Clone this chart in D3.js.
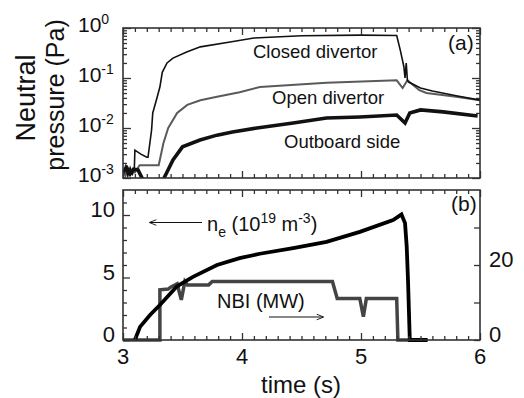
<!DOCTYPE html>
<html>
<head>
<meta charset="utf-8">
<script src="https://cdn.jsdelivr.net/npm/d3@7"></script>
<style>
  body { margin: 0; background: #fff; }
  svg { display: block; font-family: "Liberation Sans", Arial, sans-serif; }
</style>
</head>
<body>
<svg id="chart" width="524" height="398"></svg>
<script>
// time axis
const timeTicks = [3, 4, 5, 6];
const timeMinor = [3.1, 3.2, 3.3, 3.4, 3.5, 3.6, 3.7, 3.8, 3.9, 4.1, 4.2, 4.3, 4.4, 4.5, 4.6, 4.7, 4.8, 4.9,
  5.1, 5.2, 5.3, 5.4, 5.5, 5.6, 5.7, 5.8, 5.9];

// panel (a) log ticks
const decadeTicks = [1e-3, 1e-2, 1e-1, 1];
const logMinor = [2, 3, 4, 5, 6, 7, 8, 9].flatMap(m => [m * 1e-3, m * 1e-2, m * 1e-1]);

// panel (b) ticks
const densTicks = [0, 5, 10];
const densMinor = [1, 2, 3, 4, 6, 7, 8, 9, 11];
const nbiTicks = [0, 20];
const nbiMinor = [10, 30];

// neutral pressure (Pa) : [time (s), value]
const closedDivertor = [
  [3.0, 1.2e-3], [3.02, 1.7e-3], [3.04, 1.1e-3], [3.06, 1.6e-3], [3.08, 1.2e-3], [3.095, 1.5e-3],
  [3.10, 3.6e-3], [3.15, 3.0e-3], [3.20, 2.6e-3], [3.21, 2.6e-3], [3.24, 9e-3], [3.25, 2e-2],
  [3.28, 3.6e-2], [3.31, 6.6e-2], [3.33, 0.13], [3.37, 0.2], [3.42, 0.25], [3.535, 0.33],
  [3.65, 0.42], [3.9, 0.525], [4.1, 0.63], [4.5, 0.70], [5.0, 0.72], [5.30, 0.71],
  [5.33, 0.36], [5.36, 0.17], [5.37, 0.10], [5.38, 0.20], [5.39, 0.09], [5.40, 0.083],
  [5.5, 0.063], [5.6, 0.055], [5.8, 0.044], [6.0, 0.036]
];
const openDivertor = [
  [3.0, 1.5e-3], [3.02, 1.1e-3], [3.04, 1.6e-3], [3.06, 1.2e-3], [3.08, 1.5e-3], [3.10, 1.3e-3],
  [3.14, 1.8e-3], [3.30, 1.8e-3], [3.34, 5e-3], [3.38, 1e-2], [3.455, 2e-2], [3.54, 2.9e-2],
  [3.65, 3.6e-2], [3.79, 4.2e-2], [3.98, 5.2e-2], [4.15, 6.6e-2], [4.71, 8e-2], [5.30, 9e-2],
  [5.35, 6.3e-2], [5.39, 9e-2], [5.49, 5.7e-2], [5.55, 5e-2], [5.8, 4.2e-2], [6.0, 3.6e-2]
];
const outboardSide = [
  [3.0, 1.3e-3], [3.03, 1.6e-3], [3.06, 1.2e-3], [3.09, 1.5e-3], [3.126, 1.45e-3], [3.17, 9e-4],
  [3.20, 7e-4], [3.30, 7e-4], [3.336, 9.1e-4], [3.37, 1.32e-3], [3.42, 2.3e-3], [3.50, 4.2e-3],
  [3.647, 5.75e-3], [3.79, 7.2e-3], [3.92, 8.3e-3], [4.126, 1e-2], [4.43, 1.26e-2], [4.71, 1.58e-2],
  [4.99, 1.66e-2], [5.30, 1.82e-2], [5.37, 1.26e-2], [5.41, 2e-2], [5.50, 2.3e-2], [5.69, 2.1e-2],
  [5.98, 1.74e-2]
];

// line density (1e19 m-3) and NBI power (MW)
const density = [
  [3.10, 0], [3.143, 1.05], [3.227, 2.0], [3.31, 2.8], [3.454, 4.3], [3.588, 5.05], [3.79, 6.0],
  [3.98, 6.55], [4.15, 6.9], [4.43, 7.35], [4.71, 7.85], [4.99, 8.65], [5.27, 9.6], [5.34, 10.05],
  [5.37, 9.35], [5.384, 7.5], [5.395, 4.8], [5.41, 0], [5.56, 0]
];
const nbiPower = [
  [3.0, 0], [3.31, 0], [3.31, 13.4], [3.38, 13.6], [3.40, 14.1], [3.455, 15.0], [3.49, 10.7],
  [3.52, 15.6], [3.54, 14.7], [3.72, 14.7], [3.75, 15.6], [4.76, 15.6], [4.80, 11.1], [4.99, 11.1],
  [5.02, 6.2], [5.045, 11.1], [5.30, 11.1], [5.31, 0], [5.45, 0]
];

const svg = d3.select("#chart");
const left = 123, right = 480;
const aTop = 28, aBottom = 178, bTop = 190, bBottom = 340;

const x = d3.scaleLinear().domain([3, 6]).range([left, right]);
const yA = d3.scaleLog().domain([1e-3, 1]).range([aBottom, aTop]);
const yB = d3.scaleLinear().domain([0, 12]).range([bBottom, bTop]);
const yR = d3.scaleLinear().domain([0, 40]).range([bBottom, bTop]);

const frameColor = "#333";

function tickAxis(axis, tx, ty, vals, size) {
  const g = svg.append("g")
    .attr("transform", `translate(${tx},${ty})`)
    .call(axis.tickValues(vals).tickSize(size).tickFormat(""));
  g.select(".domain").remove();
  g.selectAll("line").attr("stroke", frameColor).attr("stroke-width", 1.3);
}

// clip paths
const defs = svg.append("defs");
defs.append("clipPath").attr("id", "clipA").append("rect")
  .attr("x", left).attr("y", aTop).attr("width", right - left).attr("height", aBottom - aTop);
defs.append("clipPath").attr("id", "clipB").append("rect")
  .attr("x", left).attr("y", bTop).attr("width", right - left).attr("height", bBottom - bTop + 2);
defs.append("marker").attr("id", "arr").attr("viewBox", "0 0 10 10")
  .attr("refX", 9).attr("refY", 5).attr("markerWidth", 9).attr("markerHeight", 7)
  .attr("orient", "auto").attr("markerUnits", "userSpaceOnUse")
  .append("path").attr("d", "M0,1 L10,5 L0,9").attr("fill", "none").attr("stroke", "#111").attr("stroke-width", 1.3);

// ---- panel (a) ----
const lineA = d3.line().x(d => x(d[0])).y(d => yA(d[1]));
const gA = svg.append("g").attr("clip-path", "url(#clipA)");
gA.append("path").datum(openDivertor).attr("d", lineA)
  .attr("fill", "none").attr("stroke", "#5a5a5a").attr("stroke-width", 2);
gA.append("path").datum(closedDivertor).attr("d", lineA)
  .attr("fill", "none").attr("stroke", "#111").attr("stroke-width", 1.6);
gA.append("path").datum(outboardSide).attr("d", lineA)
  .attr("fill", "none").attr("stroke", "#111").attr("stroke-width", 3.6);

// ticks (inward)
tickAxis(d3.axisBottom(x), 0, aTop, timeTicks, 7);
tickAxis(d3.axisBottom(x), 0, aTop, timeMinor, 4);
tickAxis(d3.axisTop(x), 0, aBottom, timeTicks, 7);
tickAxis(d3.axisTop(x), 0, aBottom, timeMinor, 4);
tickAxis(d3.axisRight(yA), left, 0, decadeTicks, 8);
tickAxis(d3.axisRight(yA), left, 0, logMinor, 4);
tickAxis(d3.axisLeft(yA), right, 0, decadeTicks, 8);
tickAxis(d3.axisLeft(yA), right, 0, logMinor, 4);

svg.append("rect").attr("x", left).attr("y", aTop).attr("width", right - left).attr("height", aBottom - aTop)
  .attr("fill", "none").attr("stroke", frameColor).attr("stroke-width", 1.6);

// log tick labels
const expOf = v => String(Math.round(Math.log10(v)));
decadeTicks.forEach(v => {
  const t = svg.append("text").attr("x", 78).attr("y", yA(v) + 4)
    .attr("font-size", 21).attr("fill", "#111");
  t.append("tspan").text("10");
  t.append("tspan").attr("dy", -8).attr("font-size", 14).text(expOf(v));
});

// ---- panel (b) ----
const gB = svg.append("g").attr("clip-path", "url(#clipB)");
gB.append("path").datum(nbiPower)
  .attr("d", d3.line().x(d => x(d[0])).y(d => yR(d[1])))
  .attr("fill", "none").attr("stroke", "#444").attr("stroke-width", 3.5);
gB.append("path").datum(density)
  .attr("d", d3.line().x(d => x(d[0])).y(d => yB(d[1])))
  .attr("fill", "none").attr("stroke", "#000").attr("stroke-width", 3.8);

tickAxis(d3.axisBottom(x), 0, bTop, timeTicks, 7);
tickAxis(d3.axisBottom(x), 0, bTop, timeMinor, 4);
tickAxis(d3.axisTop(x), 0, bBottom, timeTicks, 7);
tickAxis(d3.axisTop(x), 0, bBottom, timeMinor, 4);
tickAxis(d3.axisRight(yB), left, 0, densTicks, 7);
tickAxis(d3.axisRight(yB), left, 0, densMinor, 4);
tickAxis(d3.axisLeft(yR), right, 0, nbiMinor.concat(nbiTicks), 6);

svg.append("rect").attr("x", left).attr("y", bTop).attr("width", right - left).attr("height", bBottom - bTop)
  .attr("fill", "none").attr("stroke", frameColor).attr("stroke-width", 1.6);

densTicks.forEach(v => {
  svg.append("text").attr("x", 115).attr("y", yB(v) + 2).attr("text-anchor", "end")
    .attr("font-size", 22).attr("fill", "#111").text(v);
});
nbiTicks.forEach(v => {
  svg.append("text").attr("x", 489).attr("y", yR(v) + 2)
    .attr("font-size", 22).attr("fill", "#111").text(v);
});
timeTicks.forEach(v => {
  svg.append("text").attr("x", x(v)).attr("y", 364).attr("text-anchor", "middle")
    .attr("font-size", 22).attr("fill", "#111").text(v);
});

// ---- labels ----
const label = (txt, lx, ly, size, anchor) => svg.append("text").attr("x", lx).attr("y", ly)
  .attr("font-size", size).attr("fill", "#111").attr("text-anchor", anchor || "start").text(txt);
label("Closed divertor", 253, 58, 18.5);
label("Open divertor", 272, 104, 18.5);
label("Outboard side", 284, 148, 18.5);
label("(a)", 448, 50, 21);
label("(b)", 451, 211, 21);

const ne = svg.append("text").attr("x", 207).attr("y", 231).attr("font-size", 20).attr("fill", "#111");
ne.append("tspan").text("n");
ne.append("tspan").attr("dy", 6).attr("font-size", 14).text("e");
ne.append("tspan").attr("dy", -6).text(" (10");
ne.append("tspan").attr("dy", -8).attr("font-size", 14).text("19");
ne.append("tspan").attr("dy", 8).text(" m");
ne.append("tspan").attr("dy", -8).attr("font-size", 14).text("-3");
ne.append("tspan").attr("dy", 8).text(")");
svg.append("line").attr("x1", 202).attr("y1", 222.5).attr("x2", 150).attr("y2", 222.5)
  .attr("stroke", "#111").attr("stroke-width", 1.2).attr("marker-end", "url(#arr)");

label("NBI (MW)", 217, 308, 20);
svg.append("line").attr("x1", 269).attr("y1", 317).attr("x2", 323).attr("y2", 317)
  .attr("stroke", "#111").attr("stroke-width", 1.2).attr("marker-end", "url(#arr)");

label("time (s)", 301, 393, 24, "middle");
svg.append("text").attr("transform", "translate(35,98) rotate(-90)")
  .attr("text-anchor", "middle").attr("font-size", 27).attr("fill", "#111").text("Neutral");
svg.append("text").attr("transform", "translate(64,95) rotate(-90)")
  .attr("text-anchor", "middle").attr("font-size", 25).attr("fill", "#111").text("pressure (Pa)");
</script>
</body>
</html>
